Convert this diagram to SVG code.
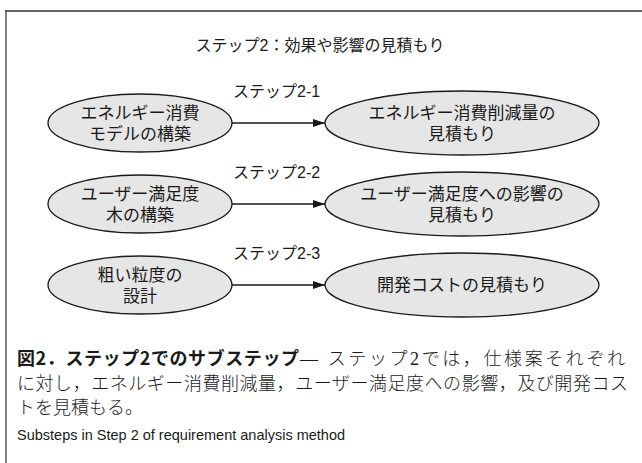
<svg xmlns="http://www.w3.org/2000/svg" width="642" height="463" viewBox="0 0 642 463">
<style>
.node ellipse{fill:#e6e6e6;stroke:#1a1a1a;stroke-width:1.3}
.t{font-family:"Liberation Sans","Noto Sans CJK JP",sans-serif;font-size:17px;fill:#1a1a1a;text-anchor:middle}
.lbl{font-family:"Liberation Sans","Noto Sans CJK JP",sans-serif;font-size:16px;fill:#1a1a1a}
.edge{stroke:#1a1a1a;stroke-width:1.3;fill:none}
.cap{font-family:"Noto Sans CJK JP",sans-serif;font-size:18px;fill:#1a1a1a}
.capb{font-weight:bold}
.capr{font-family:"Liberation Serif","Noto Sans CJK JP",serif;font-weight:300}
.en{font-family:"Liberation Sans",sans-serif;font-size:14.5px;fill:#1a1a1a}
</style>
<defs>
<marker id="arr" markerWidth="12" markerHeight="8" refX="12" refY="4" orient="auto" markerUnits="userSpaceOnUse">
<path d="M0,0 L12,4 L0,8 Z" fill="#1a1a1a"/>
</marker>
</defs>
<rect width="642" height="463" fill="#ffffff"/>
<line x1="6" y1="11" x2="6" y2="463" stroke="#666" stroke-width="1.6"/>
<line x1="5" y1="11" x2="642" y2="11" stroke="#333" stroke-width="1.6"/>
<text class="t" x="320" y="51" style="font-size:16px">ステップ2：効果や影響の見積もり</text>

<g id="connectors">
<line class="edge" x1="232" y1="123" x2="325" y2="123" marker-end="url(#arr)"/>
<line class="edge" x1="232" y1="204" x2="325" y2="204" marker-end="url(#arr)"/>
<line class="edge" x1="232" y1="285" x2="325" y2="285" marker-end="url(#arr)"/>
<text class="lbl" x="233" y="97">ステップ2-1</text>
<text class="lbl" x="233" y="178">ステップ2-2</text>
<text class="lbl" x="233" y="259">ステップ2-3</text>
</g>

<g id="n1" class="node"><ellipse cx="140" cy="123" rx="92" ry="29"/>
<text class="t" x="140" y="119">エネルギー消費</text><text class="t" x="140" y="140">モデルの構築</text></g>
<g id="n2" class="node"><ellipse cx="462" cy="123" rx="137" ry="32"/>
<text class="t" x="462" y="119">エネルギー消費削減量の</text><text class="t" x="462" y="140">見積もり</text></g>
<g id="n3" class="node"><ellipse cx="140" cy="204" rx="92" ry="29"/>
<text class="t" x="140" y="200">ユーザー満足度</text><text class="t" x="140" y="221">木の構築</text></g>
<g id="n4" class="node"><ellipse cx="462" cy="204" rx="137" ry="32"/>
<text class="t" x="462" y="200">ユーザー満足度への影響の</text><text class="t" x="462" y="221">見積もり</text></g>
<g id="n5" class="node"><ellipse cx="140" cy="285" rx="92" ry="29"/>
<text class="t" x="140" y="281">粗い粒度の</text><text class="t" x="140" y="302">設計</text></g>
<g id="n6" class="node"><ellipse cx="462" cy="285" rx="137" ry="32"/>
<text class="t" x="462" y="291">開発コストの見積もり</text></g>

<text class="cap capb" x="17" y="365" textLength="282" lengthAdjust="spacing">図2．ステップ2でのサブステップ</text>
<text class="cap capr" x="300" y="365" textLength="325" lengthAdjust="spacing">— ステップ2では，仕様案それぞれ</text>
<text class="cap capr" x="17" y="390" textLength="611" lengthAdjust="spacing">に対し，エネルギー消費削減量，ユーザー満足度への影響，及び開発コス</text>
<text class="cap capr" x="17" y="414">トを見積もる。</text>
<text class="en" x="17" y="440">Substeps in Step 2 of requirement analysis method</text>
</svg>
